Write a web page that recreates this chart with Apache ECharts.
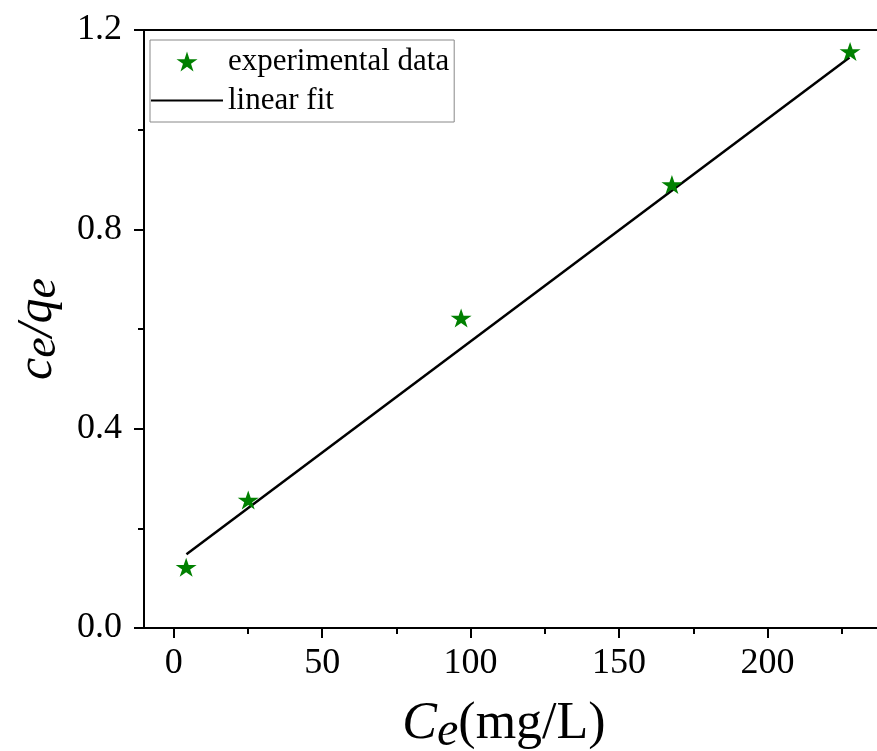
<!DOCTYPE html>
<html>
<head>
<meta charset="utf-8">
<script src="https://cdn.jsdelivr.net/npm/echarts@6/dist/echarts.min.js"></script>
<style>
html,body{margin:0;padding:0;background:#fff;overflow:hidden;}
#chart{width:877px;height:751px;}
</style>
</head>
<body>
<div id="chart"></div>
<script>
// Data
const expX = [4.2, 25.1, 96.8, 167.8, 227.8];
const expY = [0.122, 0.257, 0.622, 0.890, 1.157];
const fitX = [4.3, 227.6];
const fitY = [0.148, 1.145];
const xMajorTicks = [0, 50, 100, 150, 200];
const xMinorTicks = [25, 75, 125, 175, 225];
const yTickLabels = ['0.0', '0.4', '0.8', '1.2'];
const seriesNames = ['experimental data', 'linear fit'];

const starPath = 'path://M100,0 L122.45,69.1 L195.11,69.1 L136.33,111.8 L158.78,180.9 L100,138.2 L41.22,180.9 L63.67,111.8 L4.89,69.1 L77.55,69.1 Z';
const linePath = 'path://M0,0 L72,0 L72,2 L0,2 Z';
const serif = '"Liberation Serif", "Times New Roman", serif';

const chart = echarts.init(document.getElementById('chart'), null, {renderer: 'canvas'});

const option = {
  backgroundColor: '#ffffff',
  animation: false,
  grid: {
    left: 144, top: 30, width: 772, height: 598,
    containLabel: false,
    outerBoundsMode: 'none',
    show: false
  },
  legend: {
    orient: 'vertical',
    left: 150, top: 40,
    itemWidth: 72, itemHeight: 20, itemGap: 8,
    padding: [6, 5, 6, 1],
    borderColor: '#888', borderWidth: 1,
    align: 'left',
    textStyle: {fontFamily: serif, fontSize: 31, color: '#000', lineHeight: 30},
    data: [
      {name: seriesNames[0], icon: starPath},
      {name: seriesNames[1], icon: linePath}
    ]
  },
  xAxis: [{
    type: 'value', min: -10, max: 250,
    splitLine: {show: false},
    axisLine: {show: true, onZero: false, lineStyle: {color: '#000', width: 2}},
    axisTick: {show: true, inside: false, length: 10, lineStyle: {color: '#000', width: 2}, customValues: xMajorTicks},
    axisLabel: {show: true, margin: 18, fontFamily: serif, fontSize: 36, color: '#000', customValues: xMajorTicks},
    name: '{c|C}{e|e}{r|(mg/L)}',
    nameLocation: 'middle',
    nameGap: 66,
    nameTextStyle: {
      padding: [0, 52, 0, 0],
      rich: {
        c: {fontFamily: serif, fontStyle: 'italic', fontSize: 52, color: '#000', lineHeight: 60},
        e: {fontFamily: serif, fontStyle: 'italic', fontSize: 48, color: '#000', lineHeight: 60, padding: [16, 0, 0, 0]},
        r: {fontFamily: serif, fontSize: 52, color: '#000', lineHeight: 60}
      }
    }
  }, {
    type: 'value', min: -10, max: 250, position: 'bottom',
    splitLine: {show: false},
    axisLine: {show: false},
    axisTick: {show: true, inside: false, length: 6, lineStyle: {color: '#000', width: 2}, customValues: xMinorTicks},
    axisLabel: {show: false}
  }, {
    type: 'value', min: -10, max: 250, position: 'top',
    splitLine: {show: false},
    axisLine: {show: true, onZero: false, lineStyle: {color: '#000', width: 2}},
    axisTick: {show: false},
    axisLabel: {show: false}
  }],
  yAxis: {
    type: 'value', min: 0, max: 1.2, interval: 0.4,
    splitLine: {show: false},
    axisLine: {show: true, onZero: false, lineStyle: {color: '#000', width: 2}},
    axisTick: {show: true, inside: false, length: 10, lineStyle: {color: '#000', width: 2}},
    minorTick: {show: true, splitNumber: 2, length: 6, lineStyle: {color: '#000', width: 2}},
    axisLabel: {
      margin: 22, fontFamily: serif, fontSize: 36, color: '#000',
      formatter: function (v) { return yTickLabels[Math.round(v / 0.4)]; }
    },
    name: '{c|c}{e|e}{c|/q}{e|e}',
    nameLocation: 'middle',
    nameRotate: 90,
    nameGap: 74,
    nameTextStyle: {
      rich: {
        c: {fontFamily: serif, fontStyle: 'italic', fontSize: 50, color: '#000', lineHeight: 56},
        e: {fontFamily: serif, fontStyle: 'italic', fontSize: 46, color: '#000', lineHeight: 56, padding: [10, 0, 0, 0]}
      }
    }
  },
  series: [{
    name: seriesNames[0],
    type: 'scatter',
    xAxisIndex: 0,
    symbol: starPath,
    symbolSize: [21, 20],
    symbolKeepAspect: true,
    itemStyle: {color: '#008000', opacity: 1},
    data: expX.map((x, i) => [x, expY[i]]),
    z: 3
  }, {
    name: seriesNames[1],
    type: 'line',
    xAxisIndex: 0,
    symbol: 'none',
    lineStyle: {color: '#000', width: 2.5},
    itemStyle: {color: '#000'},
    data: fitX.map((x, i) => [x, fitY[i]]),
    z: 2
  }]
};
chart.setOption(option);
</script>
</body>
</html>
